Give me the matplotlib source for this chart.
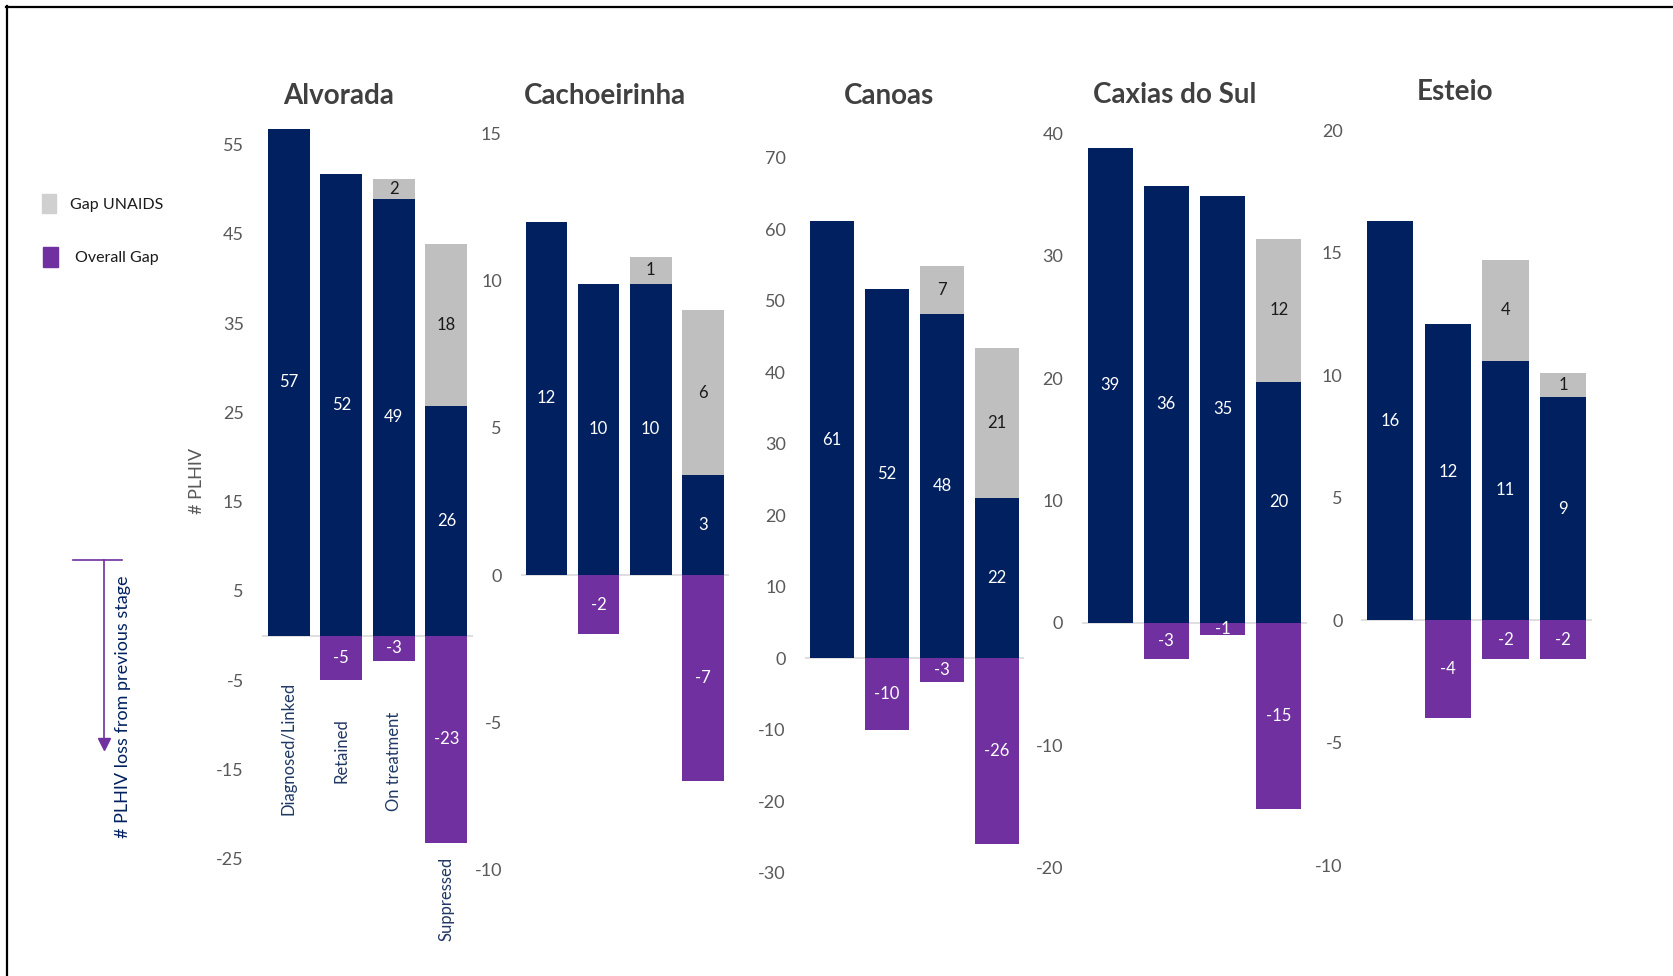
import matplotlib
matplotlib.use('Agg')
import matplotlib.pyplot as plt
from matplotlib.lines import Line2D
from matplotlib.patches import Rectangle
import numpy as np

plt.rcParams['font.family'] = ['Lato', 'DejaVu Sans']
plt.rcParams['axes.unicode_minus'] = False

# ---- data ----
stages = ['Diagnosed/Linked', 'Retained', 'On treatment', 'Suppressed']
cities = ['Alvorada', 'Cachoeirinha', 'Canoas', 'Caxias do Sul', 'Esteio']

alvorada_plhiv = [56.7, 51.7, 48.9, 25.7]
alvorada_gap_unaids = [0, 0, 2.2, 18.2]
alvorada_overall_gap = [0, -5.0, -2.8, -23.2]

cachoeirinha_plhiv = [12.0, 9.9, 9.9, 3.4]
cachoeirinha_gap_unaids = [0, 0, 0.9, 5.6]
cachoeirinha_overall_gap = [0, -2.0, 0, -7.0]

canoas_plhiv = [61.2, 51.6, 48.2, 22.4]
canoas_gap_unaids = [0, 0, 6.7, 21.0]
canoas_overall_gap = [0, -10.0, -3.3, -26.0]

caxias_plhiv = [38.8, 35.7, 34.9, 19.7]
caxias_gap_unaids = [0, 0, 0, 11.7]
caxias_overall_gap = [0, -3.0, -1.0, -15.2]

esteio_plhiv = [16.3, 12.1, 10.6, 9.1]
esteio_gap_unaids = [0, 0, 4.1, 1.0]
esteio_overall_gap = [0, -4.0, -1.6, -1.6]

plhiv = [alvorada_plhiv, cachoeirinha_plhiv, canoas_plhiv, caxias_plhiv, esteio_plhiv]
gap_unaids = [alvorada_gap_unaids, cachoeirinha_gap_unaids, canoas_gap_unaids,
              caxias_gap_unaids, esteio_gap_unaids]
overall_gap = [alvorada_overall_gap, cachoeirinha_overall_gap, canoas_overall_gap,
               caxias_overall_gap, esteio_overall_gap]

# ---- layout ----
W, H = 1673, 976
NAVY = '#002060'
GRAY = '#BFBFBF'
PURPLE = '#7030A0'
TICK = '#595959'

panel_rects = [
    [0.1569, 0.1200, 0.1256, 0.7778],
    [0.3112, 0.1090, 0.1244, 0.7543],
    [0.4809, 0.1057, 0.1314, 0.7325],
    [0.6467, 0.1112, 0.1346, 0.7521],
    [0.8138, 0.1134, 0.1377, 0.7532],
]
ylims = [(-25, 60), (-10, 15), (-30, 70), (-20, 40), (-10, 20)]
yticks = [np.arange(-25, 56, 10), np.arange(-10, 16, 5), np.arange(-30, 71, 10),
          np.arange(-20, 41, 10), np.arange(-10, 21, 5)]
title_pos = [(339, 96), (605, 96), (889, 96), (1175, 95), (1455, 92)]
stage_label_tops = [-5.15, -9.2, -8.5, -24.8]

fig = plt.figure(figsize=(W / 100, H / 100), dpi=100)
fig.patch.set_facecolor('white')

x = np.arange(len(stages))
for i, city in enumerate(cities):
    ax = fig.add_axes(panel_rects[i])
    ax.axhline(0, color='#D9D9D9', lw=1.2, zorder=0)
    ax.bar(x, plhiv[i], 0.8, color=NAVY, zorder=2)
    ax.bar(x, gap_unaids[i], 0.8, bottom=plhiv[i], color=GRAY, zorder=2)
    ax.bar(x, overall_gap[i], 0.8, color=PURPLE, zorder=2)

    for j in range(len(stages)):
        b = plhiv[i][j]
        g = gap_unaids[i][j]
        o = overall_gap[i][j]
        ax.text(j, b / 2, '{:.0f}'.format(b), ha='center', va='center',
                color='white', fontsize=12, zorder=3)
        if g:
            ax.text(j, b + g / 2, '{:.0f}'.format(g), ha='center', va='center',
                    color='#1a1a1a', fontsize=12, zorder=3)
        if o:
            ax.text(j, o / 2, '{:.0f}'.format(o), ha='center', va='center',
                    color='white', fontsize=12, zorder=3)

    ax.set_xlim(-0.5, 3.5)
    ax.set_ylim(*ylims[i])
    ax.set_yticks(yticks[i])
    ax.set_xticks([])
    ax.tick_params(axis='y', length=0, pad=13.5, labelsize=13, labelcolor=TICK)
    for s in ax.spines.values():
        s.set_visible(False)

    tx, ty = title_pos[i]
    fig.text(tx / W, 1 - ty / H, city, ha='center', va='center',
             fontsize=20, fontweight='bold', color='#404040')

    if i == 0:
        for j, st in enumerate(stages):
            ax.text(j, stage_label_tops[j], st, rotation=90, ha='center', va='top',
                    color='#203864', fontsize=12, clip_on=False)

# y label
fig.text(197 / W, 1 - 481 / H, '# PLHIV', rotation=90, ha='center', va='center',
         fontsize=13, color=TICK)

# legend
fig.add_artist(Rectangle((42 / W, 1 - 213 / H), 14 / W, 19 / H,
                         transform=fig.transFigure, color='#D0D0D0'))
fig.add_artist(Rectangle((43 / W, 1 - 267 / H), 15 / W, 20 / H,
                         transform=fig.transFigure, color=PURPLE))
fig.text(70 / W, 1 - 205 / H, 'Gap UNAIDS', ha='left', va='center',
         fontsize=11.5, color='#1a1a1a')
fig.text(75 / W, 1 - 258 / H, 'Overall Gap', ha='left', va='center',
         fontsize=11.5, color='#1a1a1a')

# loss arrow on the left
fig.add_artist(Line2D([73 / W, 122 / W], [1 - 560 / H, 1 - 560 / H],
                      transform=fig.transFigure, color=PURPLE, lw=1.2))
fig.add_artist(Line2D([104 / W, 104 / W], [1 - 560 / H, 1 - 740 / H],
                      transform=fig.transFigure, color=PURPLE, lw=1.2))
fig.add_artist(Line2D([104 / W], [1 - 744 / H], transform=fig.transFigure,
                      marker='v', markersize=8, color=PURPLE, lw=0))
fig.text(123 / W, 1 - 707 / H, '# PLHIV loss from previous stage', rotation=90,
         ha='center', va='center', fontsize=13, color=NAVY)

# frame lines (top and left)
fig.add_artist(Line2D([6 / W, 1], [1 - 7 / H, 1 - 7 / H],
                      transform=fig.transFigure, color='black', lw=1.6))
fig.add_artist(Line2D([7 / W, 7 / W], [0, 1 - 6 / H],
                      transform=fig.transFigure, color='black', lw=1.6))

fig.savefig('out.png', dpi=100)
